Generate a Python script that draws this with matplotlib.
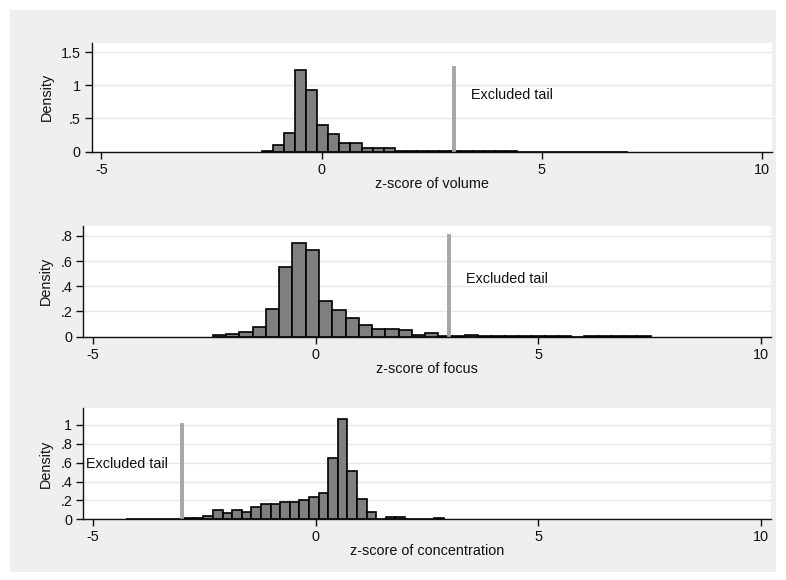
import numpy as np
import matplotlib.pyplot as plt
from matplotlib.patches import Rectangle

plt.rcParams['font.family'] = ['Liberation Sans', 'DejaVu Sans']

# Datos ------------------------------
# volume: histogram densities, bins start at -1.36, width 0.252
vol_start = -1.36
vol_width = 0.252
vol_dens = [0.01, 0.10, 0.28, 1.23, 0.93, 0.40, 0.265, 0.133, 0.133, 0.05, 0.05, 0.05,
            0.012, 0.01, 0.008, 0.007, 0.006, 0.005, 0.005, 0.004, 0.004, 0.004, 0.004,
            0.003, 0.003, 0.003, 0.003, 0.003, 0.003, 0.003, 0.003, 0.003, 0.003]

# focus: bins start at -2.31, width 0.298
foc_start = -2.31
foc_width = 0.298
foc_dens = [0.01, 0.02, 0.035, 0.08, 0.22, 0.55, 0.74, 0.69, 0.28, 0.21, 0.145, 0.09,
            0.058, 0.058, 0.05, 0.015, 0.03, 0.008, 0.005, 0.016, 0.004, 0.004, 0.004,
            0.004, 0.004, 0.004, 0.004, 0.0, 0.004, 0.004, 0.004, 0.004, 0.004]

# concentration: bins start at -4.25, width 0.2158
con_start = -4.25
con_width = 0.2158
con_dens = [0.006, 0.006, 0.006, 0.006, 0.006, 0.006, 0.018, 0.018, 0.04, 0.097, 0.065,
            0.097, 0.082, 0.128, 0.165, 0.165, 0.18, 0.18, 0.2, 0.236, 0.28, 0.65, 1.06,
            0.51, 0.21, 0.08, 0.004, 0.025, 0.025, 0.0, 0.0, 0.0, 0.01]

labels = ["z-score of volume", "z-score of focus", "z-score of concentration"]
cutoffs = [3, 3, -3]
cut_heights = [1.26, 0.8, 1.0]
yticks = [[0, 0.5, 1, 1.5], [0, 0.2, 0.4, 0.6, 0.8], [0, 0.2, 0.4, 0.6, 0.8, 1]]
yticklabels = [["0", ".5", "1", "1.5"], ["0", ".2", ".4", ".6", ".8"],
               ["0", ".2", ".4", ".6", ".8", "1"]]
ymax = [1.64, 0.88, 1.175]
text_pos = [(3.39, 0.855, "left"), (3.38, 0.46, "left"), (-3.33, 0.59, "right")]

W, H = 786, 580
fig = plt.figure(figsize=(W/100, H/100), dpi=100, facecolor="white")
fig.patches.append(Rectangle((10/W, 8/H), 766/W, 562/H, transform=fig.transFigure,
                             facecolor="#efefef", edgecolor="none", zorder=-1))

# axes boxes in pixels: left, right, top, bottom
boxes = [(91.7, 771.7, 42.7, 151.7), (83.3, 770.7, 225.7, 336.7), (83.3, 770.7, 408.3, 519.3)]

series = [(vol_start, vol_width, vol_dens), (foc_start, foc_width, foc_dens),
          (con_start, con_width, con_dens)]

fs = 10.4
for i in range(3):
    l, r, t, b = boxes[i]
    ax = fig.add_axes([l/W, 1 - b/H, (r - l)/W, (b - t)/H])
    ax.set_facecolor("white")
    start, width, dens = series[i]
    edges = start + width*np.arange(len(dens))
    ax.bar(edges, dens, width=width, align="edge", color="#7f7f7f",
           edgecolor="black", linewidth=1.2, zorder=3)
    ax.plot([cutoffs[i], cutoffs[i]], [0, cut_heights[i]], color="#a6a6a6", lw=2.8, zorder=4)
    x, y, ha = text_pos[i]
    ax.text(x, y, "Excluded tail", ha=ha, va="center", fontsize=fs, color="#111111",
            clip_on=False, zorder=5)
    ax.set_xlim(-5.22, 10.22)
    ax.set_ylim(0, ymax[i])
    ax.set_xticks([-5, 0, 5, 10])
    ax.set_xticklabels(["-5", "0", "5", "10"])
    ax.set_yticks(yticks[i])
    ax.set_yticklabels(yticklabels[i])
    ax.tick_params(length=5, width=1, labelsize=fs, colors="#111111", pad=3)
    ax.grid(axis="y", color="#e6e6e6", lw=1, zorder=0)
    ax.set_axisbelow(True)
    for s in ["top", "right"]:
        ax.spines[s].set_visible(False)
    for s in ["left", "bottom"]:
        ax.spines[s].set_color("#111111")
        ax.spines[s].set_linewidth(1)
        ax.spines[s].set_zorder(6)
    ax.set_xlabel(labels[i], fontsize=fs, color="#111111", labelpad=0)
    ax.set_ylabel("Density", fontsize=fs, color="#111111", labelpad=5)

fig.savefig("out.png", dpi=100, facecolor=fig.get_facecolor())
